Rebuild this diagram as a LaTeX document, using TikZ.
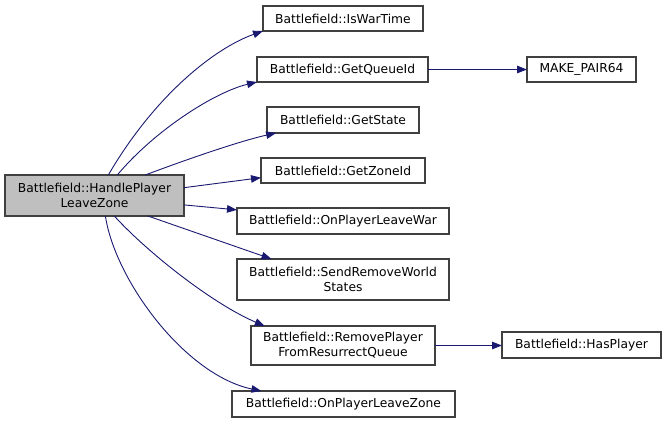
\documentclass[tikz,border=0pt]{standalone}
\usepackage{fontspec}
\setmainfont{DejaVu Sans}
\usetikzlibrary{arrows.meta}
\definecolor{edgeblue}{HTML}{191970}
\definecolor{boxborder}{HTML}{404040}
\definecolor{mainfill}{HTML}{BFBFBF}
\begin{document}
\begin{tikzpicture}[x=1pt,y=-1pt,
  fn/.style={draw=boxborder,line width=1.2pt,fill=white,inner sep=0pt,outer sep=0pt,
    align=center,font=\fontsize{12.3}{15}\selectfont},
  call/.style={draw=edgeblue,line width=0.9pt,
    -{Triangle[length=10pt,width=7.5pt,fill=edgeblue]}}]
\useasboundingbox (0,0) rectangle (667,423);
\node[fn,fill=mainfill,minimum width=179pt,minimum height=41pt] (main) at (94.5,195.5) {Battlefield::HandlePlayer\\LeaveZone};
\node[fn,minimum width=160pt,minimum height=25pt] (iswar) at (343,18.5) {Battlefield::IsWarTime};
\node[fn,minimum width=171pt,minimum height=25pt] (queue) at (342.5,69.5) {Battlefield::GetQueueId};
\node[fn,minimum width=109pt,minimum height=25pt] (pair) at (581.5,69.5) {MAKE\_PAIR64};
\node[fn,minimum width=152pt,minimum height=26pt] (state) at (343,120) {Battlefield::GetState};
\node[fn,minimum width=164pt,minimum height=25pt] (zone) at (343,170.5) {Battlefield::GetZoneId};
\node[fn,minimum width=212pt,minimum height=26pt] (war) at (343,221) {Battlefield::OnPlayerLeaveWar};
\node[fn,minimum width=212pt,minimum height=41pt] (send) at (343,279.5) {Battlefield::SendRemoveWorld\\States};
\node[fn,minimum width=184pt,minimum height=39pt] (remove) at (343,345.5) {Battlefield::RemovePlayer\\FromResurrectQueue};
\node[fn,minimum width=159pt,minimum height=26pt] (has) at (581.5,345) {Battlefield::HasPlayer};
\node[fn,minimum width=223pt,minimum height=26pt] (leavezone) at (343.5,404) {Battlefield::OnPlayerLeaveZone};

\draw[call] (main.56.6) .. controls (155,95) and (215,48) .. (iswar.south west);
\draw[call] (main.42.3) .. controls (155,130) and (215,92) .. (queue.south west);
\draw[call] (main.22.1) .. controls (185,160) and (240,141) .. (state.191.7);
\draw[call] (main.5.4) -- (zone.185.9);
\draw[call] (main.-6.1) -- (war.174.6);
\draw[call] (main.-21) -- (send.164.4);
\draw[call] (main.-46.4) .. controls (150,255) and (215,305) .. (remove.166);
\draw[call] (main.-62.9) .. controls (115,280) and (185,375) .. (leavezone.171);
\draw[call] (queue) -- (pair);
\draw[call] (remove.east) -- (has.west |- remove.east);
\end{tikzpicture}
\end{document}
